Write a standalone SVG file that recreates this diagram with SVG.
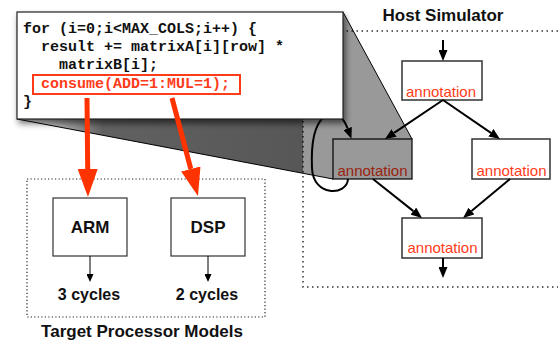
<svg xmlns="http://www.w3.org/2000/svg" width="558" height="341" viewBox="0 0 558 341">
<style>
.lbl{font-family:"Liberation Sans",Arial,sans-serif;font-weight:bold;fill:#111;text-anchor:middle}
.ann{font-family:"Liberation Sans",Arial,sans-serif;font-size:15px;fill:#ff3b1a;text-anchor:middle}
.code{font-family:"Liberation Mono","Courier New",monospace;font-weight:bold;font-size:15px;fill:#111}
.hbox{fill:#fff;stroke:#333;stroke-width:1.5}
.tbox{fill:#fff;stroke:#333;stroke-width:1.2}
.edge{stroke:#000;stroke-width:2;fill:none;marker-end:url(#ah)}
.small{stroke:#000;stroke-width:1;fill:none;marker-end:url(#ahs)}
.red{stroke:#ff3300;stroke-width:5;fill:none;marker-end:url(#ahr)}
</style>
<defs>
<marker id="ah" viewBox="0 0 11 9" markerWidth="11" markerHeight="9" refX="0" refY="4.5" orient="auto" markerUnits="userSpaceOnUse"><path d="M0,0 L11,4.5 L0,9 z" fill="#000"/></marker>
<marker id="ahs" viewBox="0 0 8 7" markerWidth="8" markerHeight="7" refX="0" refY="3.5" orient="auto" markerUnits="userSpaceOnUse"><path d="M0,0 L8,3.5 L0,7 z" fill="#000"/></marker>
<marker id="ahr" viewBox="0 0 28 20" markerWidth="28" markerHeight="20" refX="0" refY="10" orient="auto" markerUnits="userSpaceOnUse"><path d="M0,0 L28,10 L0,20 z" fill="#ff3300"/></marker>
<linearGradient id="shade" gradientUnits="userSpaceOnUse" x1="17" y1="0" x2="303" y2="0">
<stop offset="0" stop-color="#000" stop-opacity="0"/>
<stop offset="0.3" stop-color="#000" stop-opacity="0.62"/>
<stop offset="1" stop-color="#000" stop-opacity="0.66"/>
</linearGradient>
<filter id="shadow" x="-10%" y="-10%" width="130%" height="140%">
<feGaussianBlur in="SourceAlpha" stdDeviation="3"/>
<feOffset dx="2" dy="4" result="b"/>
<feComponentTransfer><feFuncA type="linear" slope="0.55"/></feComponentTransfer>
<feMerge><feMergeNode/><feMergeNode in="SourceGraphic"/></feMerge>
</filter>
</defs>

<g id="host-simulator">
<path d="M558,31 H303 V287 H558" fill="none" stroke="#333" stroke-width="1.5" stroke-dasharray="1.5 3.5"/>
<text class="lbl" x="443" y="21" font-size="17">Host Simulator</text>
</g>

<g id="node-top"><rect class="hbox" x="402" y="61" width="80" height="39"/><text class="ann" x="441" y="97">annotation</text></g>
<g id="node-left"><rect class="hbox" x="333" y="139" width="79" height="40"/><text class="ann" x="372.5" y="176">annotation</text></g>
<g id="node-right"><rect class="hbox" x="472" y="139" width="78" height="40"/><text class="ann" x="511.5" y="176">annotation</text></g>
<g id="node-bottom"><rect class="hbox" x="402" y="218" width="80" height="40"/><text class="ann" x="442.5" y="253">annotation</text></g>

<g id="callout">
<polygon points="343,12 412,139 412,179 333,179 303,173.3 303,119 343,119" fill="#000" fill-opacity="0.4"/>
<polygon points="17,119 303,119 303,173.3" fill="url(#shade)"/>
<path d="M343,12 L412,139 M17,119 L333,179" stroke="#000" stroke-width="1" fill="none"/>
</g>

<g id="target-models">
<rect x="27" y="179" width="238" height="138" fill="none" stroke="#222" stroke-width="1.2" stroke-dasharray="1.2 2.3"/>
<text class="lbl" x="142" y="337" font-size="17">Target Processor Models</text>
</g>
<g id="node-arm"><rect class="tbox" x="53" y="198" width="74" height="58"/><text class="lbl" x="90" y="233" font-size="17">ARM</text></g>
<g id="node-dsp"><rect class="tbox" x="171" y="198" width="74" height="58"/><text class="lbl" x="208" y="233" font-size="17">DSP</text></g>
<g id="label-arm-cycles"><text class="lbl" x="89" y="300" font-size="16">3 cycles</text></g>
<g id="label-dsp-cycles"><text class="lbl" x="207" y="300" font-size="16">2 cycles</text></g>

<g id="connectors">
<line class="edge" x1="443" y1="40" x2="443" y2="50"/>
<line class="edge" x1="443" y1="100" x2="394.1" y2="132.9"/>
<line class="edge" x1="443" y1="100" x2="490.9" y2="132.8"/>
<line class="edge" x1="373" y1="179" x2="413.4" y2="211.1"/>
<line class="edge" x1="510" y1="179" x2="471.5" y2="211"/>
<line class="edge" x1="443" y1="258" x2="443" y2="267"/>
<path class="edge" d="M348,179 C347,196 313,197 312,168 C311,145 313,126 324,117 C334,110 343,116 347.6,128.4"/>
<line class="small" x1="90" y1="256" x2="90" y2="274"/>
<line class="small" x1="208" y1="256" x2="208" y2="274"/>
</g>

<g id="code-box">
<rect x="17" y="12" width="326" height="107" fill="#fff" stroke="#222" stroke-width="1.2" filter="url(#shadow)"/>
<text class="code" x="23" y="33" xml:space="preserve">for (i=0;i&lt;MAX_COLS;i++) {</text>
<text class="code" x="23" y="51" xml:space="preserve">  result += matrixA[i][row] *</text>
<text class="code" x="23" y="69" xml:space="preserve">    matrixB[i];</text>
<rect x="33" y="75" width="207" height="19" fill="none" stroke="#ff3b1a" stroke-width="2"/>
<text class="code" x="23" y="88" style="fill:#ff3b1a" xml:space="preserve">  consume(ADD=1:MUL=1);</text>
<text class="code" x="23" y="106">}</text>
</g>

<g id="connectors-mapping">
<line class="red" x1="87" y1="98" x2="87.7" y2="169"/>
<line class="red" x1="172" y1="98" x2="190.8" y2="169"/>
</g>
</svg>
